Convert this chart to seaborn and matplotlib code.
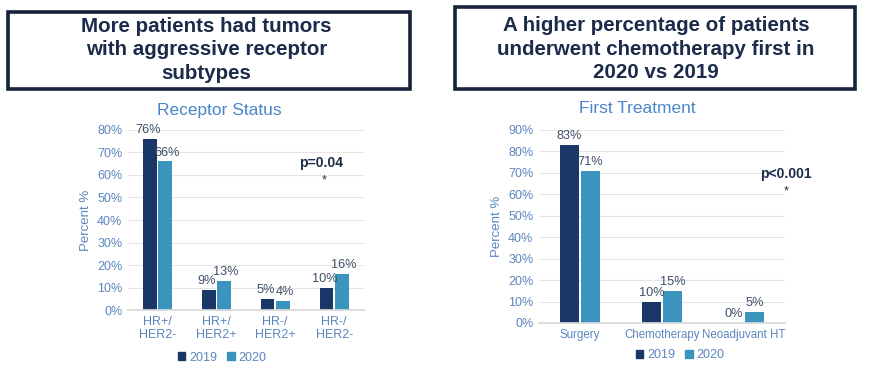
import matplotlib
matplotlib.use("Agg")
import matplotlib.pyplot as plt
import seaborn as sns
import pandas as pd
from matplotlib.patches import Rectangle, Patch
from matplotlib.ticker import FuncFormatter

# ---- data ----
years = ["2019", "2020"]
receptor_cats = ["HR+/\nHER2-", "HR+/\nHER2+", "HR-/\nHER2+", "HR-/\nHER2-"]
receptor_2019 = [76, 9, 5, 10]
receptor_2020 = [66, 13, 4, 16]
treat_cats = ["Surgery", "Chemotherapy", "Neoadjuvant HT"]
treat_2019 = [83, 10, 0]
treat_2020 = [71, 15, 5]

title_left = "More patients had tumors\nwith aggressive receptor\nsubtypes"
title_right = "A higher percentage of patients\nunderwent chemotherapy first in\n2020 vs 2019"

sns.set_theme(style="white")
plt.rcParams['font.family'] = ['Liberation Sans', 'DejaVu Sans']

C19 = "#1b3768"
C20 = "#3a94be"
TICK = "#5a86bf"
TITLE_BLUE = "#4a86c8"
NAVY = "#1c2b4a"
LBL = "#3f4f68"

fig = plt.figure(figsize=(8.7, 3.67), dpi=100)
fig.patch.set_facecolor("white")

def make_df(cats, a, b):
    return pd.DataFrame({
        "cat": cats * 2,
        "year": [years[0]] * len(cats) + [years[1]] * len(cats),
        "val": list(a) + list(b),
    })

def draw(ax, df, cats, ymax, subtitle, sub_x, sub_y, leg_x, leg_y, xfs, nudge):
    sns.barplot(data=df, x="cat", y="val", hue="year", order=cats,
                hue_order=years, palette=[C19, C20], width=0.52, gap=0.1,
                ax=ax, legend=False, saturation=1, edgecolor="none")
    ax.set_ylim(0, ymax)
    ax.set_xlim(-0.5, len(cats) - 0.5)
    ax.set_yticks(range(0, ymax + 1, 10))
    ax.yaxis.set_major_formatter(FuncFormatter(lambda v, p: f"{int(v)}%"))
    ax.grid(axis="y", color="#e4e4e4", linewidth=0.8)
    ax.set_axisbelow(True)
    for s in ["top", "right", "left"]:
        ax.spines[s].set_visible(False)
    ax.spines["bottom"].set_color("#d9d9d9")
    ax.tick_params(axis="both", length=0, labelsize=9, colors=TICK, pad=4)
    ax.tick_params(axis="x", labelsize=xfs)
    ax.set_xlabel("")
    ax.set_ylabel("Percent %", color=TICK, fontsize=9.5)
    for i, cont in enumerate(ax.containers):
        texts = ax.bar_label(cont, labels=[f"{int(b.get_height())}%" for b in cont],
                             color=LBL, fontsize=9.2, padding=2)
        dx = -nudge if i == 0 else nudge
        for t in texts:
            t.xyann = (t.xyann[0] + dx, t.xyann[1])
    ax.text(sub_x, sub_y, subtitle, transform=ax.transAxes, ha="center", va="center",
            color=TITLE_BLUE, fontsize=12.5)
    handles = [Patch(color=C19, label="2019"), Patch(color=C20, label="2020")]
    ax.legend(handles=handles, loc="center", bbox_to_anchor=(leg_x, leg_y), ncol=2,
              frameon=False, handlelength=0.6, handleheight=0.6, handletextpad=0.3,
              columnspacing=0.8, fontsize=9, labelcolor=TICK)

# left chart  (axes spans px x 128..364, y 130..310)
axL = fig.add_axes([0.147, 0.155, 0.271, 0.491])
draw(axL, make_df(receptor_cats, receptor_2019, receptor_2020), receptor_cats, 80,
     "Receptor Status", 0.386, 1.11, 0.40, -0.265, 9, 1.5)
axL.text(0.82, 0.817, "p=0.04", transform=axL.transAxes, ha="center", va="center",
         fontsize=10, fontweight="bold", color=NAVY)
axL.text(0.832, 0.72, "*", transform=axL.transAxes, ha="center", va="center",
         fontsize=9, color=NAVY)

# right chart (axes spans px x 539..785, y 130..323)
axR = fig.add_axes([0.6195, 0.120, 0.283, 0.526])
draw(axR, make_df(treat_cats, treat_2019, treat_2020), treat_cats, 90,
     "First Treatment", 0.40, 1.11, 0.573, -0.166, 8.3, 0)
axR.text(1.004, 0.772, "p<0.001", transform=axR.transAxes, ha="center", va="center",
         fontsize=10, fontweight="bold", color=NAVY)
axR.text(1.004, 0.68, "*", transform=axR.transAxes, ha="center", va="center",
         fontsize=9, color=NAVY)

# title boxes
fig.patches.append(Rectangle((0.0092, 0.757), 0.462, 0.210, transform=fig.transFigure,
                             fill=False, edgecolor="#16213a", linewidth=2.6))
fig.patches.append(Rectangle((0.523, 0.757), 0.460, 0.224, transform=fig.transFigure,
                             fill=False, edgecolor="#16213a", linewidth=2.6))
fig.text(0.237, 0.864, title_left, ha="center", va="center", fontsize=14.8,
         fontweight="bold", color=NAVY, linespacing=1.28)
fig.text(0.754, 0.866, title_right, ha="center", va="center", fontsize=14.8,
         fontweight="bold", color=NAVY, linespacing=1.28)

fig.savefig("out.png", dpi=100, facecolor="white")
